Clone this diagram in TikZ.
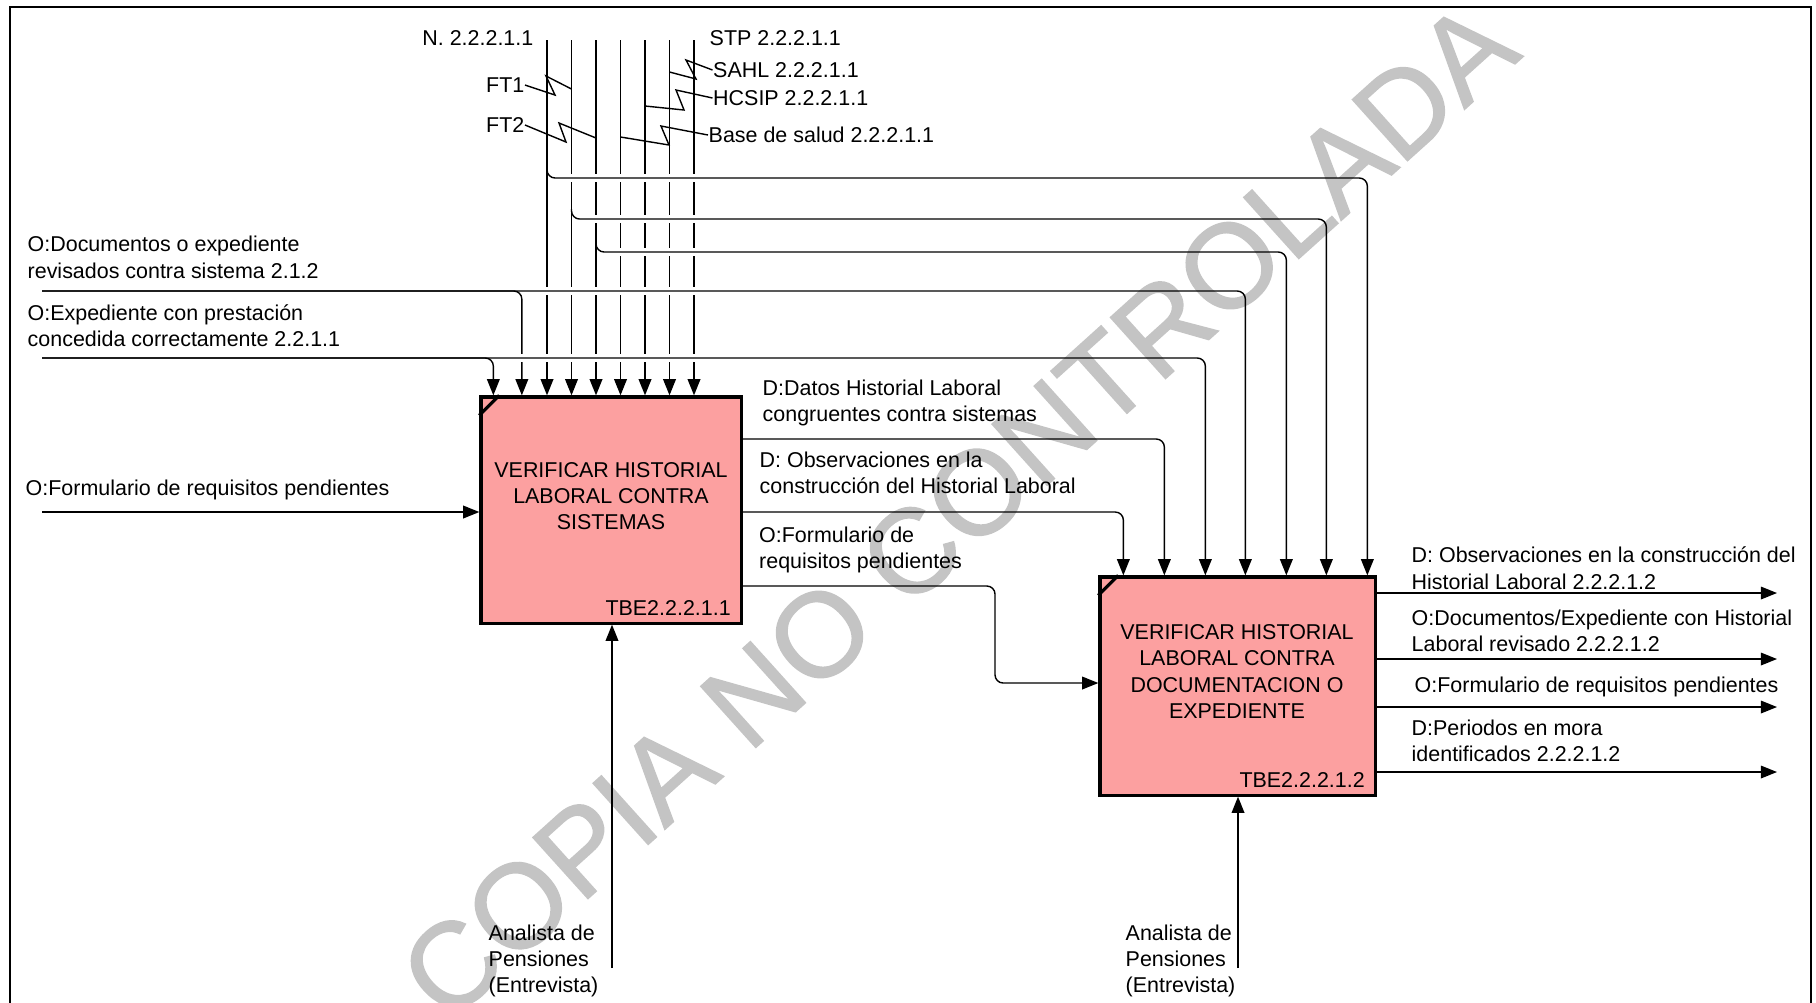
\documentclass[tikz,border=0pt]{standalone}
\usepackage{fontspec}
\setmainfont{Liberation Sans}
\newfontfamily\markfont{Liberation Sans}[FakeBold=1.2]
\usetikzlibrary{positioning,arrows.meta,calc}

\definecolor{boxpink}{RGB}{252,160,160}
\definecolor{markgray}{RGB}{196,196,196}

\begin{document}
\begin{tikzpicture}[
  x=0.01cm, y=-0.01cm,
  font=\fontsize{6.1}{7.5}\selectfont,
  act/.style={draw, line width=0.9pt, fill=boxpink, inner sep=0pt},
  ttl/.style={align=center, inner sep=0pt},
  code/.style={anchor=south east, inner xsep=3.2pt, inner ysep=2.4pt},
  lbl/.style={align=left, anchor=west, inner sep=0pt},
  flow/.style={line width=0.4pt, rounded corners=2.3pt},
  arr/.style={flow, -{Triangle[length=4.6pt, width=3.6pt]}},
  gap/.style={draw=white, line width=0.08cm},
  zig/.style={line width=0.4pt}
]
\useasboundingbox (0,0) rectangle (1816,1002);

% watermark
\node[rotate=42, text=markgray, font=\markfont\fontsize{34}{34}\selectfont] (wm) at (958,510) {COPIA NO CONTROLADA};

% frame
\draw[line width=0.6pt] (10,1010) -- (10,7) -- (1811,7) -- (1811,1010);

% activities
\node[act, minimum width=2.6cm, minimum height=2.26cm] (b1) at (611,510) {};
\node[act, minimum width=2.75cm, minimum height=2.18cm] (b2) at (1237.5,686) {};
\node[ttl] (t1) at (611,496) {VERIFICAR HISTORIAL\\LABORAL CONTRA\\SISTEMAS};
\node[ttl] (t2) at (1237,671.5) {VERIFICAR HISTORIAL\\LABORAL CONTRA\\DOCUMENTACION O\\EXPEDIENTE};
\node[code] (k1) at (b1.south east) {TBE2.2.2.1.1};
\node[code] (k2) at (b2.south east) {TBE2.2.2.1.2};
\draw[line width=0.9pt] ($(b1.north west)+(0,20)$) -- ($(b1.north west)+(20,0)$);
\draw[line width=0.9pt] ($(b2.north west)+(0,20)$) -- ($(b2.north west)+(20,0)$);

% ports on the box tops
\path (b1.north west) ++(14,0) coordinate (a1) ++(28.5,0) coordinate (a2);
\foreach \i/\dx in {1/25,2/66,3/107,4/147,5/188,6/228,7/269}
  \path (b2.north west) ++(\dx,0) coordinate (d\i);

% controls from the top
\foreach \i/\x in {1/547,2/571.5,3/596,4/620.5,5/645,6/669.5,7/694}
  \coordinate (c\i) at (\x,40);
\foreach \i in {1,...,7}
  \draw[arr] (c\i) -- (c\i |- b1.north);

\node[anchor=east, inner sep=0pt] (n1) at (534,38) {N. 2.2.2.1.1};
\node[anchor=west, inner sep=0pt] (n7) at (709,38) {STP 2.2.2.1.1};
\node[anchor=east, inner sep=0pt] (f1) at (525,85) {FT1};
\node[anchor=east, inner sep=0pt] (f2) at (525,125) {FT2};
\node[anchor=west, inner sep=0pt] (n6) at (712.5,70) {SAHL 2.2.2.1.1};
\node[anchor=west, inner sep=0pt] (n5) at (712.5,98) {HCSIP 2.2.2.1.1};
\node[anchor=west, inner sep=0pt] (n4) at (708,135) {Base de salud 2.2.2.1.1};

\draw[zig] (f1.east) -- (555,95) -- (546,76) -- (c2 |- 0,89);
\draw[zig] (f2.east) -- (566,142) -- (559,123) -- (c3 |- 0,138);
\draw[zig] (n6.west) -- (686,60) -- (696,79) -- (c6 |- 0,72);
\draw[zig] (n5.west) -- (676,90) -- (684,110) -- (c5 |- 0,106);
\draw[zig] (n4.west) -- (661,126) -- (669,145) -- (c4 |- 0,137);

% controls carried on to the second activity
\draw[gap] (562,178) -- (702,178);
\draw[arr] (c1 |- 0,168) -- (c1 |- 0,178) -- (d7 |- 0,178) -- (d7);
\draw[gap] (586,219) -- (702,219);
\draw[arr] (c2 |- 0,209) -- (c2 |- 0,219) -- (d6 |- 0,219) -- (d6);
\draw[gap] (610,252) -- (702,252);
\draw[arr] (c3 |- 0,242) -- (c3 |- 0,252) -- (d5 |- 0,252) -- (d5);

% inputs from the left
\coordinate (i1) at (42,291);
\coordinate (i2) at (42,358);
\coordinate (i3) at (42,512);
\node[lbl] (l1) at (27,257.5) {O:Documentos o expediente\\revisados contra sistema 2.1.2};
\node[lbl] (l2) at (27,326) {O:Expediente con prestación\\concedida correctamente 2.2.1.1};
\node[lbl] (l3) at (25,490) {O:Formulario de requisitos pendientes};

\draw[gap] (535,291) -- (702,291);
\draw[arr] (i1) -- (a2 |- i1) -- (a2);
\draw[arr] (i1) -- (d4 |- i1) -- (d4);
\draw[gap] (510,358) -- (702,358);
\draw[arr] (i2) -- (a1 |- i2) -- (a1);
\draw[arr] (i2) -- (d3 |- i2) -- (d3);
\draw[arr] (i3) -- (b1.west |- i3);

% outputs of the first activity
\node[lbl] (p1) at (762,403) {D:Datos Historial Laboral\\congruentes contra sistemas};
\node[lbl] (p2) at (759,473) {D: Observaciones en la\\construcción del Historial Laboral};
\node[lbl] (p3) at (758.5,550) {O:Formulario de\\requisitos pendientes};
\draw[arr] (b1.east |- 0,439) -- (d2 |- 0,439) -- (d2);
\draw[arr] (b1.east |- 0,512) -- (d1 |- 0,512) -- (d1);
\draw[arr] (b1.east |- 0,586) -- (995,586) -- (995,683) -- (b2.west |- 0,683);

% outputs of the second activity
\foreach \i/\y in {1/593,2/659,3/707,4/772}
  \coordinate (o\i) at (1777,\y);
\foreach \i in {1,...,4}
  \draw[arr] (b2.east |- o\i) -- (o\i);
\node[lbl] (r1) at (1411,568) {D: Observaciones en la construcción del\\Historial Laboral 2.2.2.1.2};
\node[lbl] (r2) at (1411,630.5) {O:Documentos/Expediente con Historial\\Laboral revisado 2.2.2.1.2};
\node[lbl] (r3) at (1414,687) {O:Formulario de requisitos pendientes};
\node[lbl] (r4) at (1411,740.5) {D:Periodos en mora\\identificados 2.2.2.1.2};

% mechanisms
\coordinate (m1) at (612,968);
\coordinate (m2) at (1238,968);
\draw[arr] (m1) -- (m1 |- b1.south);
\draw[arr] (m2) -- (m2 |- b2.south);
\node[lbl] (s1) at (488,961) {Analista de\\Pensiones\\(Entrevista)};
\node[lbl] (s2) at (1125,961) {Analista de\\Pensiones\\(Entrevista)};
\end{tikzpicture}
\end{document}
